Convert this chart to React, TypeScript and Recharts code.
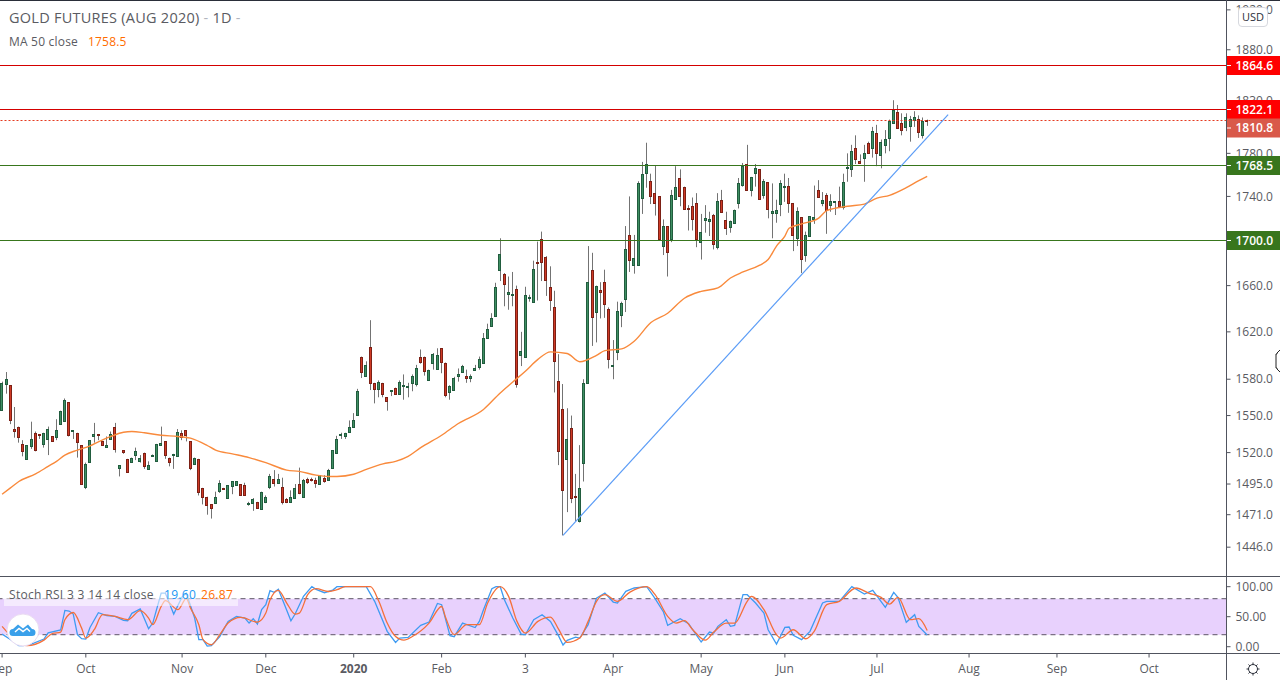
import React from 'react';
import { Bar, ComposedChart, Line, ReferenceArea, ReferenceLine, XAxis, YAxis } from 'recharts';

// open, high, low, close per trading day, month by month
const sep19 = [
  [1555, 1578, 1555, 1577], [1576, 1586, 1568, 1580], [1575, 1575, 1543, 1546], [1539, 1557, 1532, 1537],
  [1541, 1541, 1528, 1533], [1527, 1530, 1517, 1521], [1515, 1526, 1515, 1526], [1525, 1545, 1523, 1531],
  [1536, 1537, 1521, 1522], [1535, 1535, 1531, 1534], [1527, 1536, 1524, 1536], [1531, 1541, 1518, 1539],
  [1533, 1533, 1529, 1529], [1532, 1547, 1530, 1538], [1543, 1554, 1543, 1554], [1546, 1564, 1546, 1563],
  [1561, 1561, 1533, 1534], [1537.5, 1538, 1531, 1538], [1536, 1536, 1516, 1529], [1526, 1526, 1495, 1495],
];
const oct19 = [
  [1493, 1512, 1491, 1511], [1512, 1530, 1512, 1530], [1533, 1544, 1528, 1535], [1535, 1535, 1530, 1534],
  [1529, 1529, 1526, 1526], [1524, 1533, 1524, 1526], [1531, 1537, 1531, 1535], [1541, 1544, 1520, 1523],
  [1508, 1510, 1501, 1510], [1522, 1522, 1519, 1520], [1515, 1515, 1505, 1505], [1513, 1516, 1513, 1516],
  [1518, 1524, 1514, 1521], [1514, 1518, 1512, 1516], [1520, 1520, 1507, 1510], [1507, 1513, 1507, 1510],
  [1517.5, 1518.5, 1517.5, 1518], [1513, 1527, 1513, 1527], [1526, 1541, 1526, 1528], [1529, 1529, 1515, 1518],
  [1516, 1516, 1509, 1513], [1518, 1519, 1507, 1519], [1518, 1539, 1518, 1537],
];
const nov19 = [
  [1536, 1538, 1530, 1533], [1538, 1538, 1529, 1534], [1529, 1529, 1506, 1507], [1511, 1516, 1511, 1516],
  [1515, 1515, 1486, 1489], [1492, 1492, 1479, 1485], [1485, 1485, 1471, 1479], [1479, 1479, 1468, 1476],
  [1480, 1489, 1480, 1485], [1490, 1498, 1488, 1496], [1491.5, 1492, 1490.5, 1491], [1484, 1494, 1484, 1494],
  [1493, 1497, 1487, 1497], [1494, 1497, 1494, 1497], [1495, 1495, 1486, 1486], [1494, 1496, 1486, 1486],
  [1479, 1481, 1478, 1480], [1480, 1484, 1474, 1483], [1481, 1481, 1476, 1476], [1476, 1489, 1475, 1489],
];
const dec19 = [
  [1481, 1486, 1480, 1485], [1492, 1503, 1491, 1501], [1499, 1506, 1493, 1496], [1496, 1503, 1495, 1499],
  [1493, 1500, 1479, 1481], [1483, 1484, 1480, 1481], [1481, 1490, 1481, 1485], [1484, 1495, 1484, 1492],
  [1495, 1508, 1487, 1488], [1485, 1499, 1485, 1498], [1499, 1500, 1495, 1497], [1499, 1500, 1497, 1498],
  [1498, 1500, 1492, 1496], [1495, 1502, 1495, 1502], [1500, 1502, 1496, 1498], [1498, 1507, 1498, 1506],
  [1508, 1522, 1508, 1522], [1520, 1533.5, 1520, 1531], [1534, 1536, 1531, 1535], [1533.5, 1536, 1531, 1536],
  [1537, 1546, 1537, 1541],
];
const jan20 = [
  [1540, 1552, 1540, 1546], [1550, 1572, 1550, 1570], [1599, 1599, 1581, 1586], [1583, 1595, 1583, 1592],
  [1607, 1630, 1571, 1577], [1577, 1577, 1560, 1572], [1572, 1579, 1565, 1578], [1577, 1577, 1565, 1568],
  [1565, 1565, 1554, 1562], [1570, 1571, 1566, 1571], [1573, 1573, 1567, 1568], [1568, 1579, 1568, 1578],
  [1574, 1584, 1563, 1575], [1573, 1577, 1565, 1574], [1577, 1584, 1570, 1583], [1576.5, 1592, 1574, 1589.5],
  [1599, 1605, 1593, 1595], [1599, 1599, 1583, 1587], [1580, 1588, 1580, 1588], [1593, 1602, 1588, 1601],
  [1588, 1606, 1588, 1600],
];
const feb20 = [
  [1606, 1606, 1585, 1594], [1594, 1594, 1565, 1567], [1569, 1575, 1563, 1574], [1571, 1582, 1571, 1581],
  [1582, 1589, 1578, 1584], [1586, 1592, 1586, 1591], [1583, 1588, 1577, 1581], [1581, 1584, 1577.5, 1583],
  [1587.5, 1592, 1587.5, 1589.5], [1590, 1599, 1588, 1597], [1593.5, 1619, 1593, 1615], [1614.6, 1627, 1614, 1622.5],
  [1625, 1636, 1625, 1632], [1634, 1662.5, 1634, 1659], [1673.5, 1702, 1664, 1688], [1670, 1671, 1642, 1661],
  [1652, 1668, 1639, 1654], [1652, 1672, 1642, 1653], [1657, 1660, 1573, 1576], [1601, 1620, 1591, 1604],
];
const mar20 = [
  [1599, 1659, 1598.5, 1652], [1649.5, 1652, 1646, 1650], [1646, 1682, 1645, 1675], [1681, 1699, 1647, 1680],
  [1701, 1708, 1664, 1680.5], [1685, 1686, 1651, 1665], [1659, 1677, 1638, 1648], [1641, 1655.5, 1569, 1595],
  [1578.5, 1601, 1510, 1521], [1555, 1576, 1455, 1490], [1515, 1556, 1473, 1531], [1540, 1550, 1480, 1484],
  [1485.5, 1503, 1466, 1485], [1466, 1526, 1465, 1491.5], [1512, 1580, 1497, 1577], [1577, 1695, 1577, 1663],
  [1674, 1689, 1608, 1633], [1637, 1660, 1611, 1660], [1656, 1663, 1631.5, 1654], [1663, 1674, 1632, 1644],
  [1640, 1641, 1589, 1597],
];
const apr20 = [
  [1591, 1613, 1580, 1592], [1603, 1646, 1596, 1638], [1635, 1646, 1624, 1645], [1648, 1713, 1637, 1692],
  [1705, 1740, 1672, 1682.4], [1678.5, 1705, 1670.5, 1684.5], [1678, 1754, 1678, 1752], [1739, 1772, 1724, 1761],
  [1762, 1790, 1748, 1770], [1754, 1761, 1733, 1740], [1743.5, 1769, 1722.5, 1734], [1740, 1740, 1701, 1701],
  [1695, 1719, 1687, 1713], [1713, 1713, 1668, 1689.6], [1701, 1746, 1698.5, 1741], [1738, 1768, 1738, 1749],
  [1757, 1765, 1731, 1740], [1749, 1749, 1728, 1729], [1729, 1732, 1709, 1728], [1731, 1739, 1709, 1719],
  [1734, 1743, 1694, 1701],
];
const may20 = [
  [1699.4, 1724, 1683, 1708], [1718, 1732, 1707, 1720], [1717, 1726, 1704, 1719], [1723, 1724, 1692, 1697],
  [1694, 1743, 1692, 1735.5], [1737, 1746, 1725, 1726], [1718.5, 1726, 1705, 1711], [1712, 1718, 1707, 1717.6],
  [1716, 1728, 1715, 1727.4], [1734, 1757, 1729, 1752], [1750, 1771, 1749, 1768], [1770, 1788, 1745, 1746],
  [1746, 1758, 1740, 1758], [1761, 1770, 1749, 1766], [1765, 1765, 1737, 1737], [1741, 1756, 1738, 1754],
  [1753, 1753, 1720, 1728], [1724.4, 1752, 1702, 1726.5], [1725, 1737, 1716, 1728], [1732.5, 1755, 1722, 1752],
];
const jun20 = [
  [1749.5, 1761, 1735, 1750], [1750, 1757, 1725, 1734], [1734, 1734, 1690.5, 1705], [1703, 1730, 1695, 1727],
  [1721, 1721, 1671, 1683], [1687, 1708, 1681, 1705], [1704, 1722, 1704, 1722], [1719, 1750, 1715, 1721],
  [1746, 1755, 1739, 1740], [1734, 1744, 1731, 1737], [1741, 1743, 1706, 1727], [1732.5, 1742, 1726, 1736],
  [1735, 1735.5, 1723, 1735.5], [1735.5, 1749, 1730, 1731], [1730, 1761, 1728, 1753], [1766, 1780, 1753.5, 1767],
  [1765, 1788, 1758, 1782], [1785, 1797, 1770, 1775], [1773, 1779, 1770, 1771], [1775, 1788, 1753.5, 1780],
  [1790, 1791, 1780, 1781], [1785, 1805, 1776, 1801],
];
const jul20 = [
  [1799, 1807, 1768, 1780], [1779, 1793, 1766, 1791], [1788, 1802, 1780, 1793.5], [1794, 1812, 1782, 1810.5],
  [1808.6, 1830.6, 1808.6, 1821], [1819, 1826, 1803, 1804], [1808.6, 1818, 1797, 1802], [1804, 1818, 1801, 1814],
  [1806, 1815.5, 1791, 1813], [1811.4, 1820, 1805, 1814], [1813, 1816, 1794.5, 1801], [1797, 1814, 1794, 1810.5],
  [1812, 1812, 1806, 1810.8],
];
const candles = [...sep19, ...oct19, ...nov19, ...dec19, ...jan20, ...feb20, ...mar20, ...apr20, ...may20, ...jun20, ...jul20];

// [day, value] read where the line bends
const ma50 = [
  [0, 1487], [2, 1492], [4, 1497], [8, 1503], [11, 1509], [13, 1513], [15, 1518], [18, 1522], [21, 1525.4], [23, 1528.7],
  [26, 1533], [29, 1536.4], [31, 1537], [34, 1536], [38, 1534], [42, 1533], [45, 1531.6], [49, 1525.7], [51, 1522],
  [55, 1519], [59, 1516], [63, 1512], [68, 1506], [71, 1505], [75, 1502], [78, 1501], [80, 1501], [84, 1502.7],
  [87, 1506.6], [91, 1511], [94, 1513], [97, 1517], [100, 1524], [105, 1534], [109, 1543.5], [115, 1555], [119, 1568.6],
  [122, 1577.7], [125, 1586.7], [128, 1596.6], [131, 1603], [135, 1601.6], [138, 1594.6], [142, 1600], [144, 1604],
  [148, 1605.5], [151, 1612], [155, 1628], [159, 1636], [163, 1649], [167, 1655], [171, 1658], [174, 1666.7], [177, 1672],
  [181, 1678], [183, 1683], [185, 1695], [187, 1704], [188, 1711], [191, 1715], [195, 1720], [197, 1727], [202, 1731],
  [206, 1733], [209, 1738.4], [212, 1741], [216, 1748], [219, 1754.5], [221, 1758.5],
];
const stochK = [
  [0, 21], [2, 12], [4, 2], [5, 1.7], [7, 4.5], [10, 12.8], [11, 23], [14, 28], [15, 60.5], [16, 59.5], [17, 54.4], [18, 20],
  [19, 13.3], [20, 12.8], [21, 32], [23, 56.7], [25, 52], [27, 50.5], [29, 44], [30, 43.3], [31, 55.6], [33, 62.8], [35, 30],
  [36, 39.4], [38, 89.4], [39, 89.4], [41, 54.4], [43, 82.8], [44, 89.4], [46, 47.8], [47, 12], [48, 11.7], [49, 1], [50, 1.7],
  [52, 17], [54, 42], [56, 50.5], [58, 47.8], [59, 39.4], [60, 46.7], [61, 37.8], [62, 61.7], [63, 70], [64, 93.3], [65, 90.6],
  [66, 95.6], [69, 43.3], [70, 54.4], [72, 84], [74, 100], [75, 95.6], [77, 90], [79, 94.4], [80, 100], [87, 100], [89, 75.6],
  [92, 25.6], [94, 7.2], [95, 14.4], [97, 15.6], [100, 35.6], [102, 41], [104, 72], [105, 70], [107, 18.3], [108, 16.7],
  [110, 39.4], [113, 32], [114, 42.2], [115, 61.7], [117, 96.7], [118, 100], [119, 100], [120, 78.3], [122, 47.8], [124, 21],
  [125, 20], [127, 45], [129, 53.3], [131, 42.2], [133, 17.2], [134, 2.8], [135, 10.6], [137, 16], [138, 14.4], [140, 36.7],
  [142, 81], [144, 89.4], [146, 74.4], [147, 72.8], [149, 92.2], [151, 97.8], [154, 100], [156, 80], [158, 57.8], [159, 35.6],
  [162, 46.7], [164, 38.3], [167, 7.8], [169, 24.4], [170, 22.8], [171, 33.9], [173, 45], [174, 33.9], [175, 35.6], [177, 86.7],
  [178, 86.7], [180, 72.8], [182, 56], [183, 28.3], [185, 4.4], [187, 32.2], [188, 32.8], [189, 18.9], [191, 11.7], [193, 25.6],
  [196, 72.8], [197, 75.6], [200, 75.6], [203, 100], [206, 87.8], [208, 93.9], [211, 65.6], [213, 90.6], [214, 82.2], [216, 40.6],
  [218, 53.3], [219, 33.9], [221, 19.6],
];
const stochD = [
  [0, 34], [6, 1.7], [10, 11], [12, 22], [14, 24.4], [15, 45], [17, 57], [19, 31], [20, 14.4], [22, 28.3], [24, 53.3], [27, 50.5],
  [30, 45], [33, 60], [35, 47.8], [36, 36.7], [38, 67], [39, 76.7], [42, 61.7], [44, 80], [45, 64.4], [47, 36.7], [48, 11.7],
  [50, 3.3], [52, 20], [54, 39.4], [57, 48.9], [61, 41], [63, 56], [64, 78], [66, 94], [68, 72.8], [70, 54.4], [71, 56], [73, 86.7],
  [75, 96.7], [78, 92], [80, 95], [82, 100], [88, 100], [90, 75.6], [92, 39.4], [94, 17], [96, 11], [98, 17], [102, 39.4], [105, 67],
  [106, 47.8], [108, 20], [111, 36.7], [114, 36.7], [116, 72.8], [119, 100], [121, 83.9], [123, 42.2], [125, 22.8], [128, 42.2],
  [131, 49.4], [133, 28.3], [135, 7.2], [138, 14.4], [140, 42.2], [142, 75.6], [144, 86.7], [147, 75.6], [150, 91], [154, 100],
  [156, 86.7], [159, 50.6], [161, 39.4], [163, 43.3], [165, 28.3], [168, 11], [170, 24.4], [173, 39.4], [175, 39.4], [178, 75.6],
  [179, 83.9], [182, 61.7], [185, 20], [186, 14.4], [189, 28.3], [192, 13.3], [194, 25.6], [197, 70], [200, 75.6], [204, 97.8],
  [207, 89.4], [210, 82.2], [212, 71], [214, 82.2], [217, 45], [219, 46.7], [221, 26.87],
];

const trendStart = { day: 134, price: 1455.1 };
const trendEnd = { day: 226, price: 1816.8 };

const priceTicks = [1920, 1880, 1830, 1780, 1740, 1700, 1660, 1620, 1580, 1550, 1520, 1495, 1471, 1446];
const stochTicks = [100, 50, 0];
const monthDays = [0, 20, 43, 63, 84, 105, 125, 146, 167, 187, 209, 231, 252, 274];
const monthLabels = ['Sep', 'Oct', 'Nov', 'Dec', '2020', 'Feb', '3', 'Apr', 'May', 'Jun', 'Jul', 'Aug', 'Sep', 'Oct'];

const priceLines = [
  { value: 1864.6, color: '#d40000', tag: '#ff0000', shift: 0 },
  { value: 1822.1, color: '#d40000', tag: '#ff0000', shift: 0 },
  { value: 1810.8, color: '#e5391f', tag: '#d9594a', shift: 7.5, dash: '2 2' },
  { value: 1768.5, color: '#38761d', tag: '#38761d', shift: 0 },
  { value: 1700.0, color: '#38761d', tag: '#38761d', shift: 0 },
];

const DAYS = 293; // history plus the blank days to the right of the last candle
const PRICE_DOMAIN = [1423.8, 1929];
const FONT = '"Open Sans", sans-serif';
const TEXT = '#5a5b62';

const rows = Array.from({ length: DAYS }, (_, day) => {
  const c = candles[day];
  const row: any = { day };
  if (c) {
    row.wick = [c[2], c[1]];
    row.body = [Math.min(c[0], c[3]), Math.max(c[0], c[3])];
    row.up = c[3] >= c[0];
  }
  return row;
});
ma50.forEach(([d, v]) => (rows[d].ma = v));
stochK.forEach(([d, v]) => (rows[d].k = v));
stochD.forEach(([d, v]) => (rows[d].d = v));

function Wick(props: any) {
  if (!props.payload.wick) return null;
  const cx = Math.floor(props.x + props.width / 2) + 0.5;
  return <line x1={cx} x2={cx} y1={props.y} y2={props.y + props.height} stroke="#737373" strokeWidth={1} />;
}

function Body(props: any) {
  if (!props.payload.body) return null;
  const cx = Math.floor(props.x + props.width / 2) + 0.5;
  const top = Math.round(props.y) + 0.5;
  const h = Math.max(1, Math.round(props.height));
  const up = props.payload.up;
  return (
    <rect
      x={cx - 1}
      y={top}
      width={2}
      height={h}
      fill={up ? '#3f8f63' : '#cf3a26'}
      stroke={up ? '#215c3e' : '#7c2015'}
      strokeWidth={1}
    />
  );
}

// keeps the horizontal levels on a whole pixel row
function LevelLine({ x1, x2, y1, color, dash }: any) {
  const y = Math.floor(y1) + 0.5;
  return <line x1={x1} x2={x2} y1={y} y2={y} stroke={color} strokeWidth={1} strokeDasharray={dash} />;
}

function PriceTag({ viewBox, text, color, shift }: any) {
  const y = Math.floor(viewBox.y) + 0.5 + shift;
  const left = viewBox.x + viewBox.width;
  return (
    <g>
      <rect x={left + 0.5} y={y - 9.5} width={53.5} height={19} fill={color} />
      <line x1={left + 0.5} x2={left + 4.5} y1={y} y2={y} stroke="#fff" />
      <text x={left + 9} y={y + 4} fontSize={12} fontWeight={600} fontFamily={FONT} fill="#fff">
        {text}
      </text>
    </g>
  );
}

function MonthTick({ x, y, payload }: any) {
  const i = monthDays.indexOf(payload.value);
  const label = monthLabels[i];
  return (
    <text x={x} y={y + 13} textAnchor="middle" fontSize={12} fontFamily={FONT} fill={TEXT} fontWeight={label === '2020' ? 700 : 400}>
      {label}
    </text>
  );
}

export default function App() {
  return (
    <div style={{ position: 'absolute', left: 0, top: 0, width: 1280, height: 680, background: '#fff', overflow: 'hidden' }}>
      <style>{'body{margin:0}'}</style>
      <div style={{ position: 'absolute', left: 0, top: 0 }}>
        <ComposedChart width={1280} height={577} data={rows} margin={{ top: 1, right: 0, bottom: 0.5, left: 0 }} barCategoryGap={0} barGap="-100%">
          <XAxis dataKey="day" hide padding={{ left: 0, right: 0 }} />
          <YAxis
            orientation="right"
            width={53.5}
            scale="log"
            domain={PRICE_DOMAIN}
            allowDataOverflow
            ticks={priceTicks}
            interval={0}
            tickFormatter={(v: number) => v.toFixed(1)}
            tick={{ fontSize: 12, fontFamily: FONT, fill: TEXT }}
            tickSize={4}
            tickMargin={5}
            axisLine={{ stroke: '#50535e' }}
            tickLine={{ stroke: '#50535e' }}
          />
          <Bar dataKey="wick" shape={<Wick />} isAnimationActive={false} />
          <Bar dataKey="body" shape={<Body />} isAnimationActive={false} />
          <Line dataKey="ma" type="monotone" connectNulls dot={false} stroke="#f98a3c" strokeWidth={1.4} isAnimationActive={false} />
        </ComposedChart>
      </div>

      {/* levels, tags and the trend line sit above the candles and the price scale */}
      <div style={{ position: 'absolute', left: 0, top: 0 }}>
        <ComposedChart width={1280} height={577} data={rows} margin={{ top: 1, right: 0, bottom: 0.5, left: 0 }}>
          <XAxis dataKey="day" hide padding={{ left: 0, right: 0 }} scale="band" />
          <YAxis orientation="right" width={53.5} scale="log" domain={PRICE_DOMAIN} allowDataOverflow tick={false} tickLine={false} axisLine={false} />
          {priceLines.map((p) => (
            <ReferenceLine
              key={p.value}
              y={p.value}
              shape={(s: any) => <LevelLine {...s} color={p.color} dash={p.dash} />}
              label={(lp: any) => <PriceTag viewBox={lp.viewBox} text={p.value.toFixed(1)} color={p.tag} shift={p.shift} />}
            />
          ))}
          <ReferenceLine
            segment={[
              { x: trendStart.day, y: trendStart.price },
              { x: trendEnd.day, y: trendEnd.price },
            ]}
            stroke="#5b9cf6"
            strokeWidth={1.2}
          />
        </ComposedChart>
      </div>

      <div style={{ position: 'absolute', left: 0, top: 577 }}>
        <ComposedChart width={1280} height={103} data={rows} margin={{ top: 0.5, right: 0, bottom: 0, left: 0 }}>
          <XAxis
            dataKey="day"
            ticks={monthDays}
            interval={0}
            height={26.5}
            padding={{ left: 0, right: 0 }}
            scale="band"
            tick={<MonthTick />}
            tickSize={4}
            axisLine={{ stroke: '#50535e' }}
            tickLine={{ stroke: '#50535e' }}
          />
          <YAxis
            orientation="right"
            width={53.5}
            domain={[-11.3, 115.3]}
            allowDataOverflow
            ticks={stochTicks}
            interval={0}
            tickFormatter={(v: number) => v.toFixed(2)}
            tick={{ fontSize: 12, fontFamily: FONT, fill: TEXT }}
            tickSize={4}
            tickMargin={5}
            axisLine={{ stroke: '#50535e' }}
            tickLine={{ stroke: '#50535e' }}
          />
          <ReferenceArea y1={20} y2={80} fill="#e8d1fd" fillOpacity={1} stroke="none" />
          <ReferenceLine y={80} stroke="#5d5566" strokeDasharray="5 4" />
          <ReferenceLine y={20} stroke="#5d5566" strokeDasharray="5 4" />
          <Line dataKey="k" connectNulls dot={false} stroke="#3f9bf2" strokeWidth={1.3} isAnimationActive={false} />
          <Line dataKey="d" type="monotone" connectNulls dot={false} stroke="#f4703a" strokeWidth={1.3} isAnimationActive={false} />
        </ComposedChart>
      </div>

      {/* pane borders */}
      <div style={{ position: 'absolute', left: 0, top: 0, width: 1280, height: 1, background: '#2a2e39' }} />
      <div style={{ position: 'absolute', left: 0, top: 576, width: 1280, height: 1, background: '#50535e' }} />
      <div style={{ position: 'absolute', left: 0, top: 653, width: 1280, height: 1, background: '#50535e' }} />
      <div style={{ position: 'absolute', left: 1226, top: 0, width: 1, height: 680, background: '#50535e' }} />

      {/* legends */}
      <div style={{ position: 'absolute', left: 9, top: 8, fontFamily: FONT, fontSize: 14.5, letterSpacing: 0.25, color: TEXT, whiteSpace: 'nowrap' }}>
        GOLD FUTURES (AUG 2020) <span style={{ color: '#b2b5be' }}>-</span> 1D <span style={{ color: '#b2b5be' }}>-</span>
      </div>
      <div style={{ position: 'absolute', left: 9, top: 33, fontFamily: FONT, fontSize: 12, letterSpacing: 0.2, color: TEXT, whiteSpace: 'nowrap' }}>
        MA 50 close<span style={{ color: '#ff6d00', position: 'absolute', left: 79 }}>1758.5</span>
      </div>
      <div style={{ position: 'absolute', left: 4, top: 586, width: 234, height: 20, background: 'rgba(255,255,255,0.55)' }} />
      <div style={{ position: 'absolute', left: 9, top: 586, fontFamily: FONT, fontSize: 12, letterSpacing: 0.32, color: TEXT, whiteSpace: 'nowrap' }}>
        Stoch RSI 3 3 14 14 close
        <span style={{ color: '#2196f3', position: 'absolute', left: 155 }}>19.60</span>
        <span style={{ color: '#ff6d00', position: 'absolute', left: 192 }}>26.87</span>
      </div>

      {/* currency button */}
      <div
        style={{
          position: 'absolute', left: 1238, top: 7, width: 28, height: 18, border: '1px solid #d6d8de', borderRadius: 4,
          background: '#fff', fontFamily: FONT, fontSize: 11, color: '#2a2e39', textAlign: 'center', lineHeight: '18px',
        }}
      >
        USD
      </div>

      {/* logo, gear and the cursor at the right edge */}
      <svg width={1280} height={680} style={{ position: 'absolute', left: 0, top: 0, pointerEvents: 'none' }}>
        <circle cx={23} cy={630} r={16} fill="#fff" stroke="#eadcf2" />
        <path
          d="M13 636 a3.5 3.5 0 0 1 0 -7 l5 -4.5 l5 4 l5 -4 l4 4.5 a3.5 3.5 0 0 1 0 7 z"
          fill="#3aa0ea"
        />
        <path d="M15 632 l4 -3.5 l4 3 l4 -3 l3 3" fill="none" stroke="#fff" strokeWidth={1.4} />
        <g stroke="#2a2e39" fill="none" strokeWidth={1}>
          <circle cx={1253} cy={669} r={4.5} />
          <path d="M1253 662.5v2M1253 673.5v2M1246.5 669h2M1257.5 669h2M1248.5 664.5l1.4 1.4M1256.1 672.1l1.4 1.4M1248.5 673.5l1.4 -1.4M1256.1 665.9l1.4 -1.4" />
        </g>
        <path d="M1280 350 l-3 3 v1 h-1 v14 h1 v1 l3 3" fill="#fff" stroke="#222" strokeWidth={1} />
      </svg>
    </div>
  );
}
